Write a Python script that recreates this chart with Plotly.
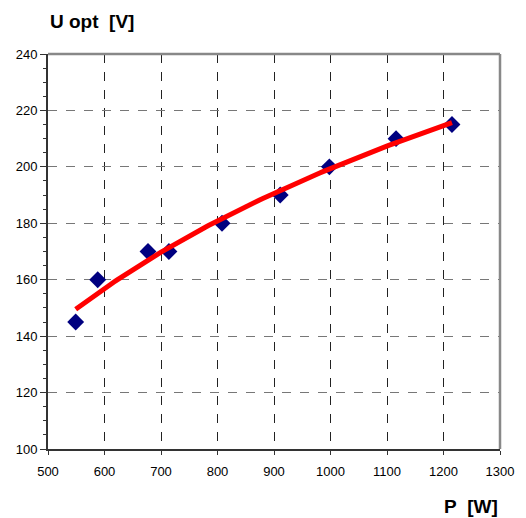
import numpy as np
import plotly.graph_objects as go

power_w = [549, 588, 677, 714, 808, 911, 998, 1116, 1215]
u_opt_v = [145, 160, 170, 170, 180, 190, 200, 210, 215]
x_ticks = [500, 600, 700, 800, 900, 1000, 1100, 1200, 1300]
y_ticks = [100, 120, 140, 160, 180, 200, 220, 240]

# logarithmic trendline fitted to the measured points
coef = np.polyfit(np.log(power_w), u_opt_v, 1)
xf = np.linspace(min(power_w), max(power_w), 120)
yf = coef[0] * np.log(xf) + coef[1]

fig = go.Figure()
fig.add_trace(go.Scatter(x=power_w, y=u_opt_v, mode="markers",
                         marker=dict(symbol="diamond", size=13, color="#000080"),
                         showlegend=False))
fig.add_trace(go.Scatter(x=xf, y=yf, mode="lines",
                         line=dict(color="#ff0000", width=5),
                         showlegend=False))

font = "Liberation Sans, Arial, sans-serif"
fig.update_layout(
    width=526, height=518,
    margin=dict(l=48, r=24, t=54, b=69),
    paper_bgcolor="white", plot_bgcolor="white",
    font=dict(family=font, size=13, color="black"),
    xaxis=dict(range=[500, 1300], tickvals=x_ticks, showgrid=True,
               gridcolor="#222222", griddash="dash", gridwidth=1,
               showline=True, linecolor="#333333", linewidth=2,
               ticks="outside", ticklen=4, tickcolor="#333333",
               ticklabelstandoff=5,
               zeroline=False, tickfont=dict(size=13)),
    yaxis=dict(range=[100, 240], tickvals=y_ticks, showgrid=True,
               gridcolor="#777777", griddash="dash", gridwidth=1,
               showline=True, linecolor="#333333", linewidth=2,
               ticks="outside", ticklen=6, tickcolor="#333333",
               minor=dict(dtick=5, tick0=100, ticks="outside", ticklen=3,
                          tickcolor="#333333", showgrid=False),
               zeroline=False, tickfont=dict(size=13)),
    shapes=[
        dict(type="line", xref="paper", yref="paper", x0=0, x1=1, y0=1, y1=1,
             line=dict(color="#888888", width=2.5)),
        dict(type="line", xref="paper", yref="paper", x0=1, x1=1, y0=0, y1=1,
             line=dict(color="#888888", width=2.5)),
    ],
    annotations=[
        dict(text="<b>U opt\u00a0 [V]</b>", xref="paper", yref="paper",
             x=0.0, y=1.0835, xanchor="left", yanchor="middle",
             showarrow=False, font=dict(size=19, family=font)),
        dict(text="<b>P\u00a0 [W]</b>", xref="paper", yref="paper",
             x=1.0, y=-0.145, xanchor="right", yanchor="middle",
             showarrow=False, font=dict(size=19, family=font)),
    ],
)

fig.write_html(
    "out.html",
    config={"displayModeBar": False},
    post_script="document.body.style.margin='0';document.body.style.overflow='hidden';",
)
